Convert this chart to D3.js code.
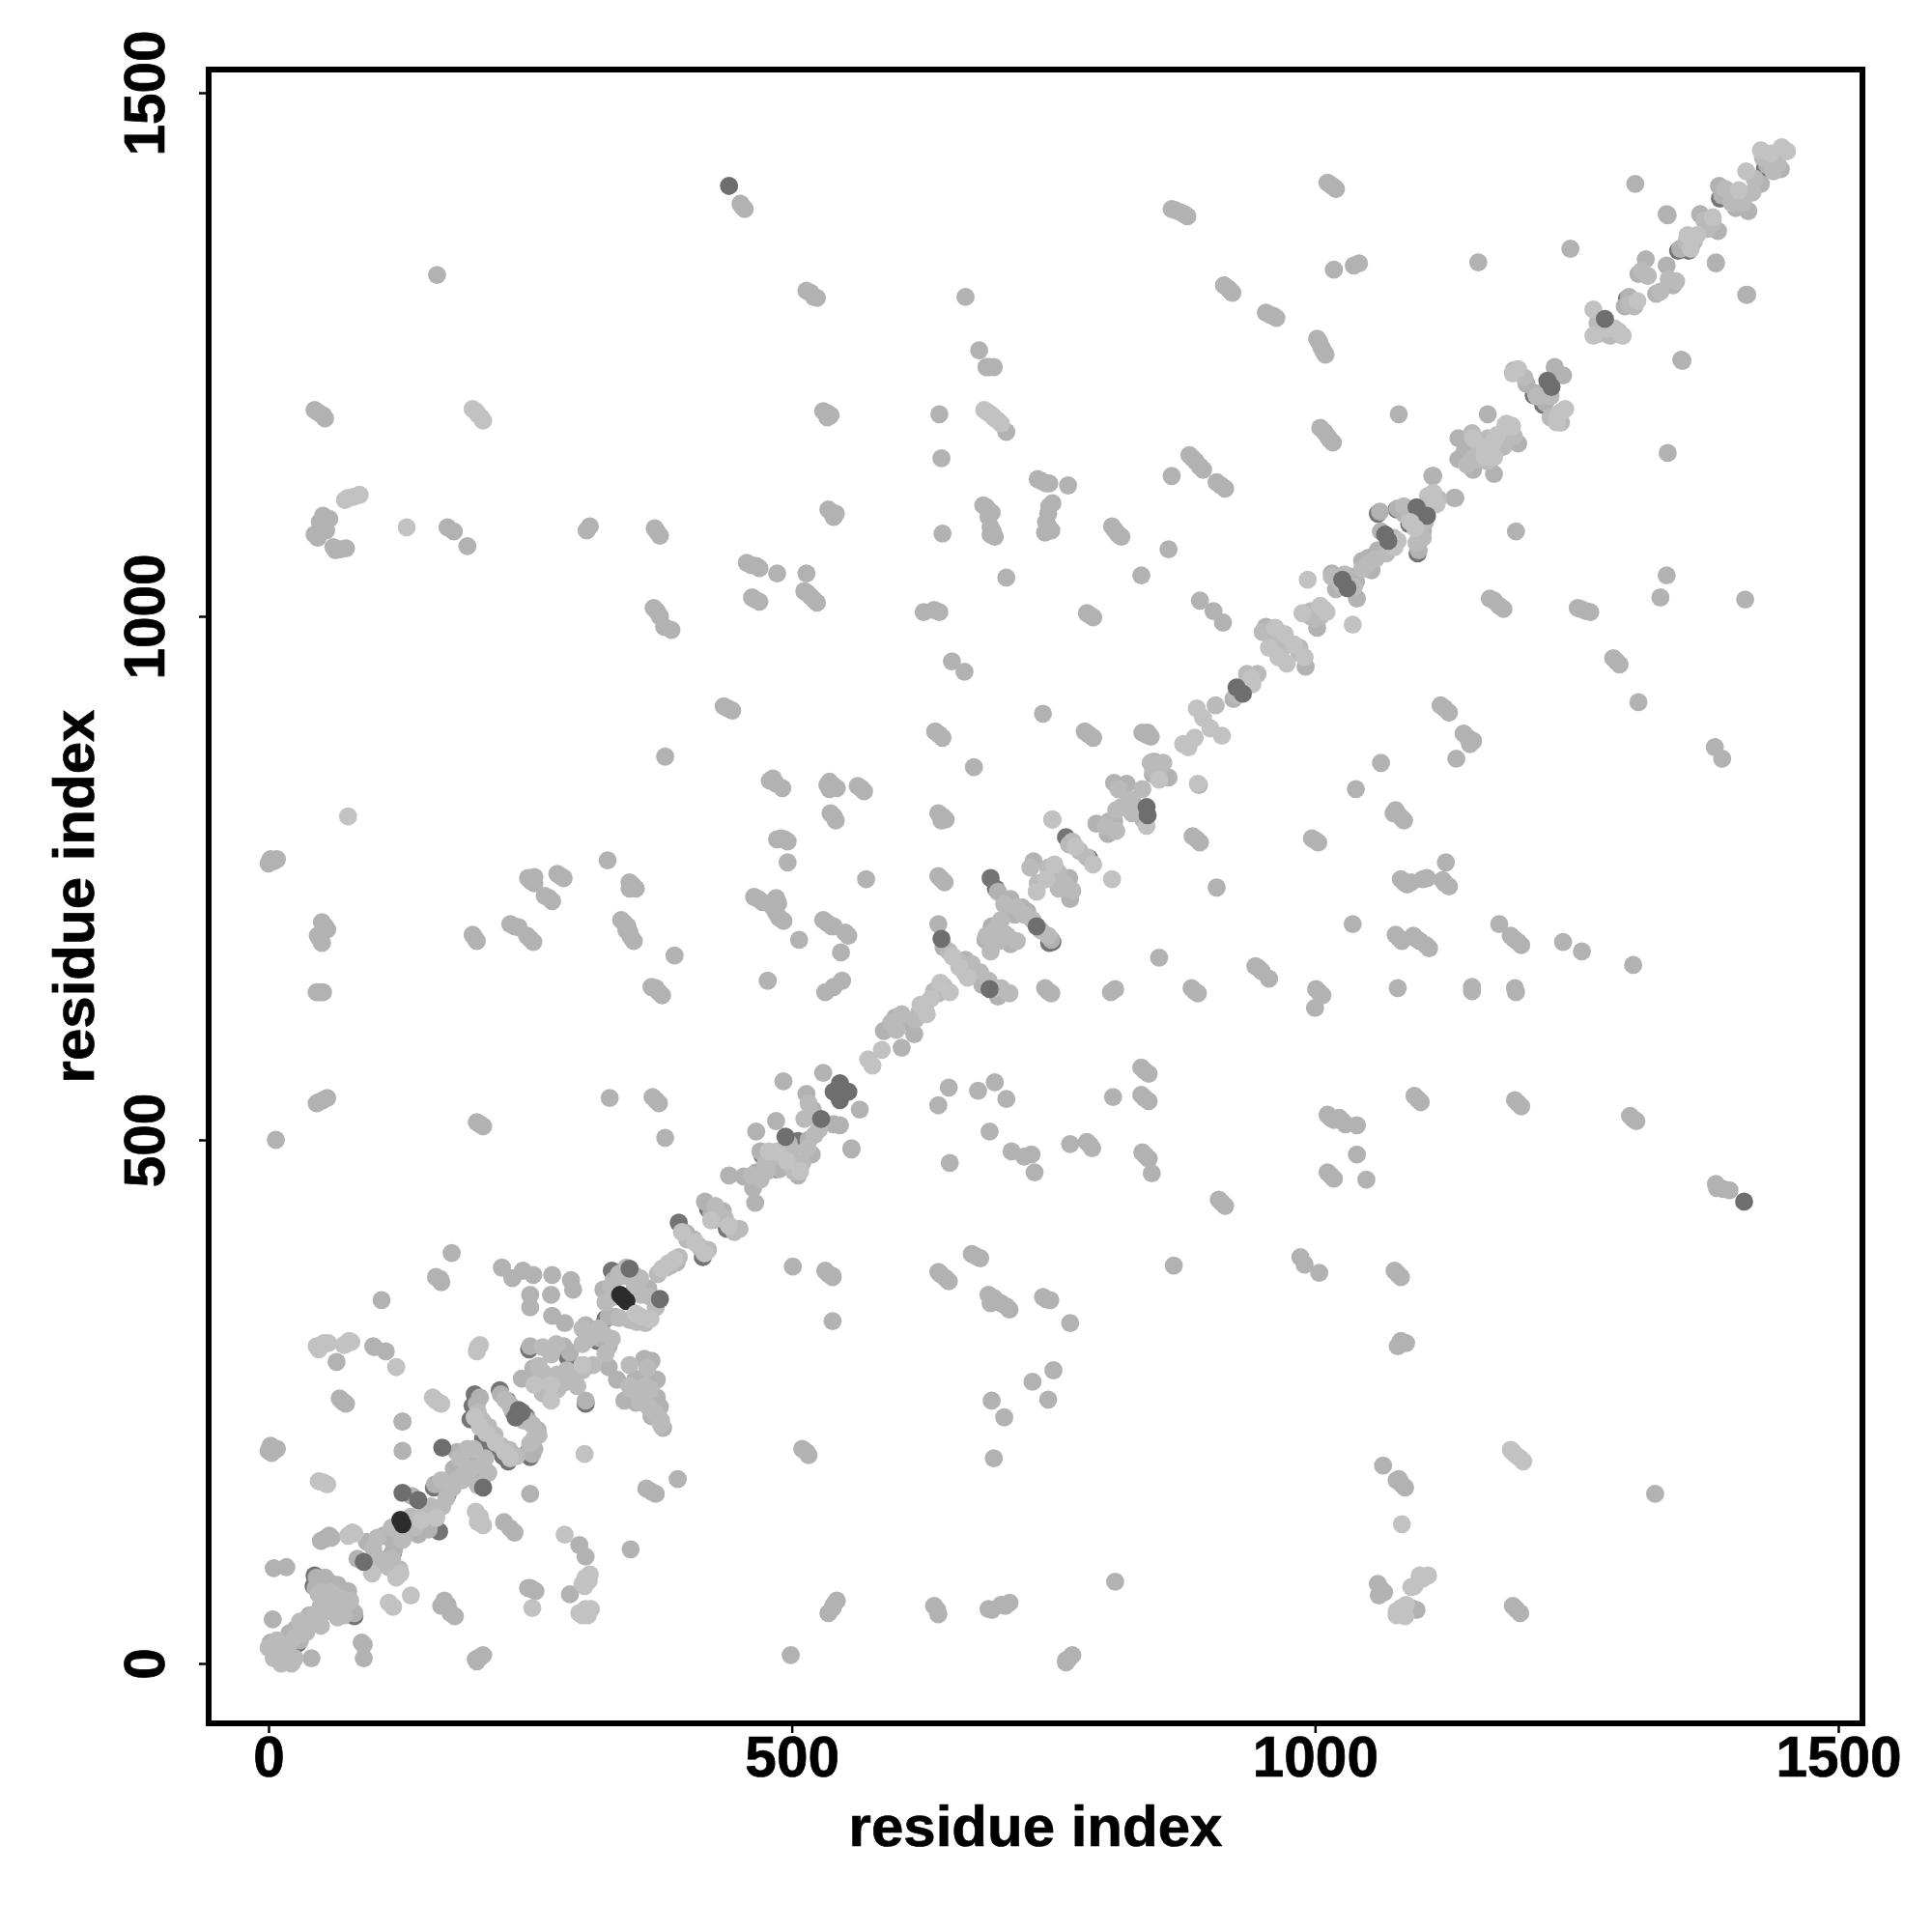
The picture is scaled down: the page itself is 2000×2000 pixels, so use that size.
<!DOCTYPE html>
<html><head><meta charset="utf-8">
<script src="https://cdn.jsdelivr.net/npm/d3@7"></script>
<style>html,body{margin:0;padding:0;background:#fff}svg{display:block}</style>
</head><body>
<script>
const tickValues = [0, 500, 1000, 1500];
const axisTitle = "residue index";
const shades = {under:"#747474", mid:"#b2b2b2", chain:"#bababa", light:"#c2c2c2", dark:"#6e6e6e", black:"#2c2c2c"};

const underContacts = [[20,27],[28,19],[44,84],[43,74],[55,62],[62,54],[76,47],[82,45],[197,257],[195,246],[193,233],[205,215],[213,207],[224,198],[229,193],[250,197],[248,202],[221,261],[228,251],[234,240],[246,236],[249,300],[303,248],[283,300],[296,282],[286,292],[298,281],[322,329],[301,319],[309,314],[314,308],[328,375],[158,168],[171,161],[119,106],[392,421],[420,434],[426,424],[438,415],[415,388],[506,499],[485,472],[472,485],[690,750],[695,740],[746,688],[749,689],[762,789],[784,769],[1060,1098],[1098,1060],[1078,1102],[1090,1088],[1095,1102],[1105,1094],[1218,1202],[1209,1211],[1298,1303],[1347,1349],[1357,1349],[1387,1399],[1430,1428],[163,126]];

const midContacts = [[453,1391],[1015,1412],[1018,1410],[1306,1413],[863,1389],[871,1386],[878,1382],[1336,1384],[1244,1351],[1156,1338],[1018,1331],[1037,1335],[1042,1337],[161,1326],[1383,1338],[917,1313],[919,1311],[1412,1307],[518,1309],[521,1305],[666,1305],[957,1288],[960,1287],[679,1254],[1004,1262],[1008,1253],[689,1238],[1350,1245],[47,1195],[52,1192],[534,1194],[641,1193],[1080,1193],[705,1176],[1009,1176],[1014,1169],[1337,1156],[643,1151],[883,1151],[890,1143],[863,1134],[1112,1134],[739,1129],[746,1127],[764,1125],[910,1125],[1133,1113],[52,1096],[52,1085],[44,1078],[55,1082],[69,1064],[64,1063],[171,1085],[177,1081],[190,1067],[304,1082],[307,1086],[371,1081],[538,1099],[683,1106],[691,1099],[692,1081],[746,1105],[745,1086],[809,1082],[644,1079],[860,1064],[1192,1081],[461,1049],[466,1048],[486,1041],[514,1041],[465,1016],[518,1019],[512,1024],[834,1039],[705,1037],[1336,1039],[1330,1018],[1411,1016],[1171,1015],[1176,1010],[1254,1007],[1263,1004],[371,1005],[385,987],[378,990],[626,1004],[641,1004],[785,1001],[890,1015],[903,1005],[912,994],[1288,957],[653,957],[665,947],[1124,912],[439,912],[740,907],[1309,918],[641,887],[784,887],[839,887],[1146,884],[1151,881],[1382,875],[1389,864],[379,866],[1135,864],[1063,860],[674,856],[845,861],[479,843],[491,836],[485,840],[539,839],[534,839],[566,836],[889,839],[1039,835],[644,809],[540,809],[749,806],[1080,810],[1075,812],[5,766],[0,764],[493,787],[486,787],[496,765],[887,787],[1000,786],[1125,765],[1128,742],[1122,748],[324,767],[251,747],[279,752],[268,731],[348,743],[571,749],[643,749],[906,741],[1085,746],[1092,746],[1103,749],[468,730],[485,731],[485,717],[492,709],[54,704],[49,692],[197,693],[235,704],[250,692],[340,707],[346,694],[342,700],[534,707],[540,704],[554,695],[507,691],[547,679],[1036,706],[1176,706],[1194,689],[1187,695],[1237,689],[1255,680],[1304,667],[1080,693],[1097,692],[1106,686],[851,674],[388,676],[946,664],[956,654],[477,652],[548,652],[532,641],[540,646],[49,641],[373,641],[366,646],[745,642],[809,644],[805,641],[885,642],[1004,641],[1000,626],[1079,645],[1150,642],[1192,641],[492,556],[837,566],[837,540],[694,555],[678,547],[705,539],[650,550],[640,533],[807,541],[326,540],[370,538],[52,538],[46,535],[1098,539],[1194,535],[1304,520],[1015,521],[1026,518],[1040,514],[202,515],[7,500],[379,502],[557,491],[689,508],[710,489],[729,486],[722,484],[766,496],[785,495],[732,469],[838,485],[844,468],[651,478],[1040,486],[1015,466],[1049,462],[911,440],[1390,453],[1384,454],[501,379],[535,372],[539,369],[865,380],[676,389],[640,374],[647,368],[986,388],[990,381],[1004,373],[1079,372],[693,349],[705,341],[743,348],[766,325],[539,327],[1084,306],[750,280],[730,269],[745,252],[691,251],[703,235],[693,196],[514,202],[1065,189],[1083,171],[1078,175],[1325,162],[809,78],[1063,71],[1097,51],[1192,52],[639,51],[691,51],[704,55],[539,53],[765,5],[499,8],[202,6],[108,347],[175,392],[164,367],[101,302],[112,298],[65,288],[128,231],[5,205],[0,203],[5,91],[17,92],[4,42],[41,5],[91,18],[91,5],[171,56],[174,48],[205,8],[199,2],[252,71],[250,72],[288,66],[297,113],[303,102],[346,109],[366,164],[231,129],[250,162],[391,176],[71,250],[128,231],[54,119],[128,203],[100,303],[223,378],[233,368],[243,375],[253,371],[271,371],[289,366],[291,357],[270,352],[250,352],[250,340],[271,332],[283,325],[325,283],[333,271],[359,291],[366,289],[351,272],[371,271],[356,269],[340,251],[351,249],[371,254],[374,245],[366,236],[377,225],[202,254],[199,248],[250,205],[252,200],[254,205],[222,257],[230,248],[248,232],[257,223],[303,251],[250,303],[253,282],[242,272],[282,303],[288,297],[300,285],[303,323],[310,317],[316,311],[325,303],[2,20],[11,8],[19,3],[20,29],[30,22],[26,33],[33,39],[39,46],[46,39],[46,82],[54,82],[45,72],[59,77],[66,75],[76,69],[57,62],[66,54],[80,50],[82,48],[110,122],[116,125],[94,116],[85,100],[99,92],[113,100],[119,116],[137,160],[159,171],[171,165],[180,202],[193,199],[202,189],[199,180],[186,189],[177,186],[146,137],[160,139],[153,128],[143,123],[120,109],[325,331],[331,331],[363,358],[349,371],[330,366],[320,357],[399,411],[406,405],[417,392],[408,402],[416,392],[423,429],[390,383],[417,441],[434,432],[440,418],[465,440],[440,466],[454,465],[463,454],[466,469],[470,489],[482,475],[488,472],[506,466],[508,478],[519,486],[516,500],[497,497],[466,508],[485,518],[557,492],[514,544],[520,529],[540,515],[546,514],[530,564],[565,529],[588,604],[599,617],[611,614],[617,601],[614,611],[605,588],[640,706],[645,684],[654,675],[666,672],[673,660],[682,648],[703,641],[697,637],[685,691],[691,704],[709,687],[703,697],[697,737],[709,730],[725,718],[713,715],[720,722],[748,691],[731,766],[765,750],[766,730],[791,802],[803,804],[802,792],[820,820],[836,806],[808,804],[820,840],[808,841],[847,861],[845,849],[860,846],[840,889],[922,921],[1016,1041],[1040,1017],[1020,1026],[1034,1038],[1039,1033],[1045,1053],[1054,1044],[1051,1056],[1060,1063],[1063,1081],[1099,1063],[1062,1100],[1085,1098],[1079,1103],[1103,1081],[1096,1084],[1113,1134],[1134,1113],[1137,1170],[1194,1165],[1165,1193],[1137,1150],[1143,1158],[1151,1140],[1171,1136],[953,990],[991,952],[996,1000],[1002,989],[1216,1210],[1233,1192],[1229,1238],[1237,1230],[1202,1222],[1211,1213],[1220,1204],[1296,1296],[1300,1305],[1309,1327],[1316,1341],[1326,1308],[1342,1316],[1336,1335],[1349,1351],[1368,1384],[1385,1368],[1386,1411],[1389,1402],[1414,1387],[1402,1390],[1426,1413],[1432,1431],[1445,1427],[1337,1383],[1383,1337],[1413,1307],[1351,1244]];

const companionContacts = [[1012,1414],[1020,1408],[451,1394],[455,1389],[866,1388],[875,1384],[514,1311],[524,1304],[913,1316],[921,1309],[953,1290],[963,1285],[1002,1265],[1010,1250],[1006,1257],[686,1238],[693,1238],[44,1197],[50,1193],[54,1189],[530,1196],[537,1192],[534,1190],[1005,1180],[1012,1172],[1017,1166],[880,1154],[886,1148],[893,1140],[735,1131],[743,1127],[906,1128],[914,1122],[49,1090],[58,1093],[50,1080],[47,1075],[62,1066],[74,1065],[535,1102],[542,1098],[540,1095],[686,1104],[688,1095],[690,1085],[694,1076],[690,1078],[749,1108],[745,1098],[743,1090],[748,1082],[742,1080],[806,1086],[812,1078],[815,1076],[369,1084],[374,1077],[457,1051],[469,1046],[462,1018],[469,1014],[515,1022],[521,1016],[524,1013],[1167,1017],[1180,1007],[1251,1008],[1259,1005],[368,1008],[374,1000],[782,1003],[788,999],[636,1006],[1285,960],[1291,954],[1120,915],[1128,908],[435,914],[443,910],[637,890],[644,884],[780,890],[788,884],[835,889],[843,885],[1142,888],[1148,878],[482,845],[536,842],[543,836],[536,835],[563,838],[569,833],[640,812],[647,806],[643,805],[537,812],[542,805],[1083,807],[1077,815],[1085,805],[2,768],[8,768],[490,788],[496,785],[883,790],[890,784],[997,788],[1003,784],[254,745],[248,750],[254,751],[264,733],[271,728],[276,754],[282,750],[345,746],[351,740],[345,740],[640,752],[646,746],[1082,749],[1088,744],[1107,750],[1124,745],[464,732],[472,727],[487,726],[482,722],[488,712],[51,708],[56,701],[47,695],[51,688],[195,696],[199,690],[231,706],[239,703],[247,695],[253,689],[337,710],[343,704],[345,698],[349,690],[530,710],[538,704],[551,698],[1190,692],[1197,686],[1077,696],[1083,690],[1094,695],[1100,690],[1109,683],[943,666],[949,661],[46,641],[52,641],[370,645],[376,638],[742,645],[748,640],[882,645],[888,640],[1001,644],[1007,638],[1191,645],[1150,646],[1095,542],[1101,536],[1191,538],[1197,532],[834,569],[841,563],[834,543],[841,537],[367,541],[373,535],[48,536],[56,540],[1301,523],[1307,518],[1012,524],[1018,519],[1023,521],[1029,515],[199,517],[205,513],[835,488],[841,482],[782,498],[787,492],[908,443],[914,437],[1012,469],[1018,463],[532,375],[539,370],[642,372],[650,365],[672,391],[680,387],[1076,375],[1082,369],[688,352],[696,346],[700,344],[708,338],[690,344],[740,350],[747,347],[1082,308],[1087,306],[1079,303],[510,205],[516,199],[1080,176],[1086,168],[1060,76],[1066,68],[1061,65],[1092,53],[1189,55],[1196,48],[636,55],[640,47],[688,52],[700,56],[708,58],[535,48],[540,56],[543,60],[762,3],[768,8],[762,1],[198,4],[1383,458],[1396,452],[68,253],[74,248],[2,208],[8,205],[3,201],[60,120],[50,117],[58,122],[225,135],[235,125],[248,72],[255,69],[89,20],[165,55],[168,60],[178,45],[361,167],[370,162],[165,364],[160,369]];

const chainContacts = [[5,15],[8,22],[0,15],[15,10],[22,0],[12,0],[5,5],[25,5],[18,14],[25,25],[36,30],[40,36],[30,40],[44,47],[50,36],[33,28],[50,68],[60,68],[70,62],[48,66],[63,60],[72,52],[78,60],[50,55],[55,50],[66,44],[72,46],[100,110],[105,100],[108,95],[118,100],[125,90],[104,120],[130,130],[118,130],[128,118],[115,92],[140,130],[136,140],[150,145],[155,150],[166,150],[170,158],[176,168],[165,175],[180,175],[185,175],[193,186],[205,190],[210,182],[190,205],[196,205],[183,196],[207,196],[186,180],[200,170],[200,240],[204,232],[210,226],[216,218],[222,208],[230,204],[237,198],[226,252],[232,244],[238,238],[244,232],[252,228],[258,218],[254,215],[250,210],[258,284],[262,278],[258,270],[262,258],[276,262],[282,268],[276,276],[285,280],[292,274],[300,280],[310,285],[295,265],[300,305],[306,310],[300,320],[315,320],[320,315],[328,310],[322,296],[262,302],[270,295],[275,305],[346,262],[352,262],[360,265],[365,262],[345,285],[362,282],[355,250],[363,245],[370,238],[375,232],[345,265],[375,228],[327,360],[322,345],[335,330],[345,328],[352,326],[360,325],[330,350],[350,360],[356,352],[365,350],[370,340],[340,370],[355,368],[335,372],[342,378],[384,380],[380,378],[372,372],[392,388],[400,405],[412,398],[420,395],[427,437],[430,425],[436,425],[445,412],[450,415],[462,466],[470,462],[475,478],[480,484],[490,490],[476,470],[497,478],[502,470],[510,478],[500,490],[515,492],[526,510],[522,505],[512,520],[516,535],[518,525],[600,605],[595,612],[605,620],[622,622],[628,630],[636,642],[640,640],[645,647],[618,615],[650,680],[660,670],[672,668],[680,660],[688,652],[694,645],[665,660],[700,645],[708,640],[686,695],[690,680],[698,690],[694,700],[700,710],[706,695],[715,690],[722,715],[730,710],[738,700],[745,695],[703,725],[715,722],[735,745],[745,760],[755,755],[760,745],[768,738],[728,760],[755,740],[768,785],[775,776],[782,770],[765,782],[800,800],[810,815],[815,818],[825,825],[830,815],[810,795],[825,812],[835,835],[812,835],[845,855],[850,850],[855,860],[843,860],[905,915],[925,925],[933,935],[945,945],[935,945],[958,985],[965,975],[975,975],[968,968],[985,970],[985,965],[960,975],[950,985],[996,1005],[1000,998],[1008,1007],[1005,1000],[1016,1038],[1025,1030],[1028,1040],[1037,1028],[1045,1045],[1050,1050],[1058,1055],[1068,1060],[1075,1075],[1085,1105],[1090,1095],[1100,1090],[1097,1070],[1103,1075],[1105,1090],[1110,1108],[1118,1112],[1145,1145],[1155,1150],[1165,1148],[1175,1160],[1180,1175],[1150,1175],[1158,1160],[1168,1160],[1165,1170],[1150,1150],[1180,1162],[1190,1172],[1225,1190],[1235,1195],[1235,1185],[1190,1235],[1200,1228],[1212,1210],[1225,1210],[1270,1280],[1272,1270],[1282,1268],[1290,1272],[1300,1298],[1305,1296],[1312,1330],[1318,1325],[1330,1310],[1338,1322],[1345,1320],[1355,1358],[1362,1358],[1372,1378],[1375,1370],[1380,1375],[1392,1408],[1398,1395],[1408,1395],[1410,1400],[1418,1405],[1420,1418],[1428,1438],[1434,1436],[1440,1440],[1442,1432],[1438,1425]];

const lightContacts = [[76,809],[132,1085],[195,1198],[200,1193],[205,1187],[198,1196],[203,1190],[687,1195],[692,1191],[697,1187],[684,1197],[690,1193],[694,1189],[700,1184],[81,1114],[73,1111],[87,1116],[76,1113],[80,125],[76,122],[82,124],[48,174],[56,171],[52,173],[160,251],[165,248],[157,254],[163,249],[46,303],[53,306],[48,300],[57,306],[74,305],[79,307],[72,304],[77,308],[122,283],[200,302],[199,298],[202,304],[202,140],[205,132],[198,145],[200,135],[283,123],[302,200],[306,79],[302,74],[300,76],[307,85],[303,82],[305,46],[300,46],[303,52],[297,48],[308,52],[252,53],[1083,133],[1103,81],[1095,74],[1100,84],[1108,84],[1092,73],[1082,53],[1087,56],[1078,50],[1086,45],[1078,46],[136,65],[119,54],[115,58],[1189,202],[1196,196],[1187,204],[1192,199],[1199,193],[126,86],[122,82],[99,86],[231,196],[226,202],[217,211],[208,220],[202,226],[197,235],[270,266],[270,251],[254,266],[300,285],[395,412],[382,382],[376,377],[388,386],[408,402],[417,392],[423,423],[440,418],[486,489],[478,489],[495,480],[508,470],[573,577],[577,571],[586,586],[623,629],[633,635],[642,650],[651,641],[629,620],[654,675],[660,665],[668,655],[751,763],[743,749],[734,737],[806,749],[749,806],[771,780],[788,763],[839,800],[851,844],[888,840],[874,878],[879,875],[885,884],[887,912],[893,903],[900,893],[911,886],[939,941],[940,935],[962,989],[971,983],[980,973],[990,961],[956,970],[965,961],[973,955],[1005,1010],[1011,1004],[988,1003],[1036,992],[993,1035],[1076,1066],[1079,1072],[1108,1115],[1116,1107],[1113,1118],[1151,1170],[1162,1161],[1171,1167],[1182,1183],[1188,1181],[1174,1173],[1162,1152],[1171,1152],[1183,1184],[1188,1182],[1189,1232],[1194,1236],[1232,1192],[1231,1185],[1239,1198],[1266,1268],[1294,1268],[1279,1275],[1266,1293],[1286,1275],[1308,1301],[1356,1364],[1365,1364],[1380,1381],[1359,1351],[1405,1407],[1412,1425],[1426,1445],[1446,1448],[1451,1444],[1436,1442]];

const darkContacts = [[440,1411],[1410,441],[205,168],[128,163],[143,156],[91,97],[166,206],[540,546],[546,554],[554,546],[546,538],[528,520],[494,503],[643,692],[689,644],[734,704],[839,818],[840,810],[925,932],[931,926],[1222,1225],[1226,1219],[1277,1284],[374,348],[345,377],[239,242],[236,235],[242,240],[1107,1096],[1070,1072],[1067,1078],[1097,1104],[1026,1035],[1031,1027]];

const blackContacts = [[339,349],[336,352],[342,346],[126,137],[128,133]];

const capContacts = [[351,334],[356,331],[365,329],[146,137],[160,139],[1091,1090],[1096,1084]];

const W = 2000, H = 2000, box = {left:216, right:1928, top:72, bottom:1784};
const xScale = d3.scaleLinear().domain([0,1500]).range([278,1903]);
const yScale = d3.scaleLinear().domain([0,1500]).range([1722,96]);
const svg = d3.select("body").append("svg").attr("width",W).attr("height",H)
  .attr("font-family","'Liberation Sans', Arial, sans-serif").attr("font-weight","bold");
svg.append("rect").attr("width",W).attr("height",H).attr("fill","#fff");

const layers = [[underContacts,shades.under],[midContacts,shades.mid],[companionContacts,shades.mid],[chainContacts,shades.chain],
                [lightContacts,shades.light],[darkContacts,shades.dark],[blackContacts,shades.black],[capContacts,shades.light]];
const marks = svg.append("g");
layers.forEach(([pts,fill])=>{
  marks.append("g").attr("fill",fill).selectAll("circle").data(pts).join("circle")
    .attr("cx",d=>xScale(d[0])).attr("cy",d=>yScale(d[1])).attr("r",9.4);
});

const xAxis = svg.append("g").attr("transform",`translate(0,${box.bottom})`)
  .call(d3.axisBottom(xScale).tickValues(tickValues).tickSize(10).tickFormat(d3.format("d")));
const yAxis = svg.append("g").attr("transform",`translate(${box.left},0)`)
  .call(d3.axisLeft(yScale).tickValues(tickValues).tickSize(10).tickFormat(d3.format("d")));
[xAxis,yAxis].forEach(a=>{
  a.select(".domain").remove();
  a.selectAll("line").attr("stroke","#000").attr("stroke-width",2.5);
  a.selectAll("text").attr("fill","#000").attr("font-size",58.5).attr("stroke","#000").attr("stroke-width",0.7)
    .attr("font-family","'Liberation Sans', Arial, sans-serif").attr("font-weight","bold");
});
xAxis.selectAll("text").attr("y",55).attr("dy",null).attr("text-anchor","middle");
yAxis.selectAll("text").attr("x",null).attr("dy",null).attr("text-anchor","middle")
  .attr("transform","translate(-46,0) rotate(-90)").attr("y",0);

svg.append("rect").attr("x",box.left).attr("y",box.top).attr("width",box.right-box.left).attr("height",box.bottom-box.top)
  .attr("fill","none").attr("stroke","#000").attr("stroke-width",6);

svg.append("text").attr("x",1072).attr("y",1911).attr("text-anchor","middle").attr("font-size",60).attr("fill","#000").attr("stroke","#000").attr("stroke-width",0.7).text(axisTitle);
svg.append("text").attr("transform","translate(97,928) rotate(-90)").attr("text-anchor","middle").attr("font-size",60).attr("fill","#000").attr("stroke","#000").attr("stroke-width",0.7).text(axisTitle);
</script>
</body></html>
